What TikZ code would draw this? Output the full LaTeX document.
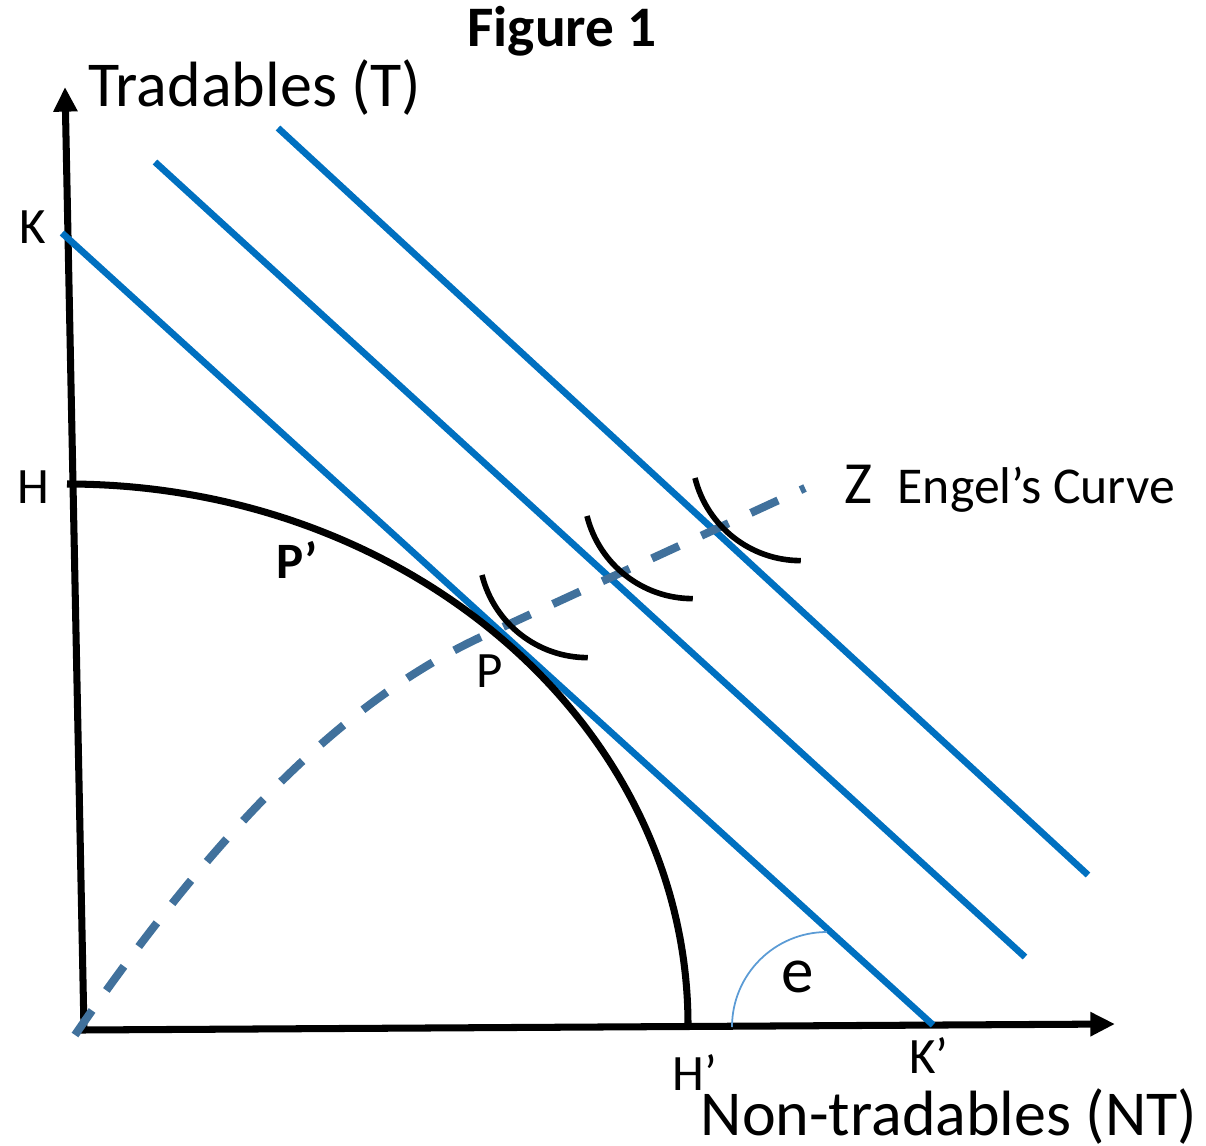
\documentclass[tikz,border=0pt]{standalone}
\usepackage{fontspec}
\setmainfont{Carlito}
\usetikzlibrary{arrows.meta}
\definecolor{budget}{HTML}{0070C0}
\definecolor{engel}{HTML}{41719C}
\definecolor{anglecol}{HTML}{5B9BD5}
\begin{document}
\begin{tikzpicture}[x=0.01cm,y=-0.01cm,
  axis/.style={line width=2pt,-{Triangle[length=7pt,width=6.5pt]}},
  budgetline/.style={budget,line width=1.9pt},
  ppf/.style={line width=2pt},
  indiff/.style={line width=1.6pt},
  engelcurve/.style={engel,line width=2.3pt,dash pattern=on 8.5pt off 7pt},
  anglearc/.style={anglecol,line width=0.5pt},
  lbl/.style={inner sep=0pt,anchor=base,font=\fontsize{14.5}{16}\selectfont},
  axlbl/.style={inner sep=0pt,anchor=base west,font=\fontsize{18.2}{20}\selectfont}]
\useasboundingbox (0,0) rectangle (1206,1145);

\node[inner sep=0pt,anchor=base,font=\bfseries\fontsize{16.3}{18}\selectfont] (title) at (562,46) {Figure 1};

\coordinate (O) at (84,1030);
\coordinate (Ttop) at (65,87);
\coordinate (NTend) at (1115,1024);
\draw[axis] (O) -- (Ttop);
\draw[axis] (80,1030) -- (NTend);
\node[axlbl] (tlabel) at (88,106) {Tradables (T)};
\node[axlbl] (ntlabel) at (700,1135) {Non-tradables (NT)};

\coordinate (K) at (62,233);
\coordinate (K2) at (933,1025);
\coordinate (B2a) at (155,162);
\coordinate (B2b) at (1025,957);
\coordinate (B3a) at (278,128);
\coordinate (B3b) at (1088,875);
\draw[budgetline] (K) -- (K2);
\draw[budgetline] (B2a) -- (B2b);
\draw[budgetline] (B3a) -- (B3b);

\coordinate (H) at (67,484);
\draw[ppf] (H) arc[start angle=270,end angle=360,x radius=621,y radius=541];

\coordinate (E0) at (75,1035);
\coordinate (P) at (492,632);
\coordinate (Z) at (805,488);
\draw[engelcurve] (E0) .. controls (230,810) and (360,690) .. (P) -- (Z);

\draw[indiff] (482,575) arc[start angle=166,end angle=90,radius=109];
\draw[indiff] (587,516) arc[start angle=166,end angle=90,radius=109];
\draw[indiff] (695,478) arc[start angle=166,end angle=90,radius=109];

\draw[anglearc] (732,1027) arc[start angle=180,end angle=270,radius=95];

\node[lbl] (klabel) at (33,243) {K};
\node[lbl] (hlabel) at (33,503) {H};
\node[lbl] (h2label) at (695,1090) {H’};
\node[lbl] (k2label) at (929,1073) {K’};
\node[lbl] (plabel) at (490,687) {P};
\node[lbl,font=\bfseries\fontsize{14.5}{16}\selectfont] (p2label) at (297,578) {P’};
\node[lbl,font=\fontsize{17}{19}\selectfont] (zlabel) at (858,503) {Z};
\node[inner sep=0pt,anchor=base west,font=\fontsize{14.7}{17}\selectfont] (engellabel) at (897,503) {Engel’s Curve};
\node[lbl,font=\fontsize{18.5}{20}\selectfont] (elabel) at (798,992) {e};
\end{tikzpicture}
\end{document}
